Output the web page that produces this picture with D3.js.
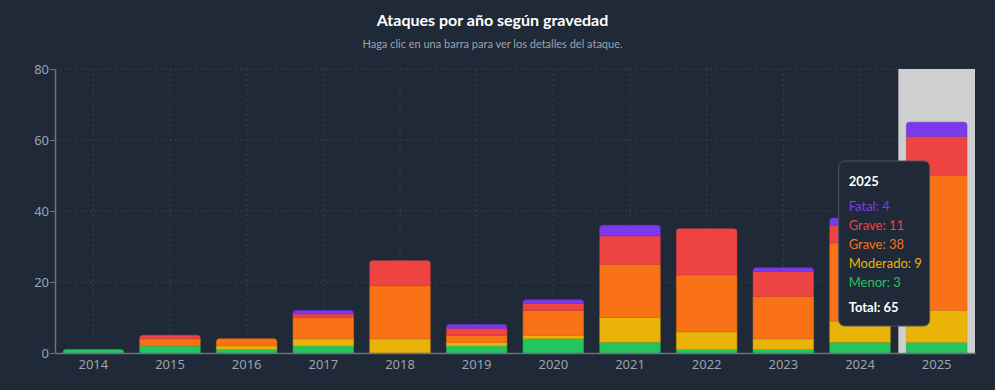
<!DOCTYPE html>
<html>
<head>
<meta charset="utf-8">
<script src="https://cdn.jsdelivr.net/npm/d3@7"></script>
<style>
  html, body { margin: 0; padding: 0; background: #1f2937; }
  svg { display: block; font-family: Lato, "Noto Sans", sans-serif; }
</style>
</head>
<body>
<div id="chart"></div>
<script>
let svgWidth = 995;
let svgHeight = 390;

let margin = { top: 69, right: 20, bottom: 37, left: 55 };
let width = svgWidth - margin.left - margin.right;
let height = svgHeight - margin.top - margin.bottom;

// data, stacked bottom to top
let years = ["2014", "2015", "2016", "2017", "2018", "2019", "2020", "2021", "2022", "2023", "2024", "2025"];
let menor    = [1, 2, 1, 2, 0, 2, 4, 3, 1, 1, 3, 3];
let moderado = [0, 0, 1, 2, 4, 1, 1, 7, 5, 3, 6, 9];
let graveNar = [0, 2, 2, 6, 15, 2, 7, 15, 16, 12, 22, 38];
let graveRoj = [0, 1, 0, 1, 7, 2, 2, 8, 13, 7, 5, 11];
let fatal    = [0, 0, 0, 1, 0, 1, 1, 3, 0, 1, 2, 4];
let yTicks = [0, 20, 40, 60, 80];

let series = [
  { key: "menor", label: "Menor", values: menor, color: "#22c55e" },
  { key: "moderado", label: "Moderado", values: moderado, color: "#eab308" },
  { key: "graveNar", label: "Grave", values: graveNar, color: "#f97316" },
  { key: "graveRoj", label: "Grave", values: graveRoj, color: "#ef4444" },
  { key: "fatal", label: "Fatal", values: fatal, color: "#7c3aed" }
];

let rows = years.map((y, i) => {
  let r = { year: y };
  series.forEach(s => r[s.key] = s.values[i]);
  return r;
});

let stacked = d3.stack().keys(series.map(s => s.key))(rows);

let svg = d3.select("#chart").append("svg")
  .attr("width", svgWidth)
  .attr("height", svgHeight);

// title
svg.append("text")
  .attr("x", svgWidth / 2 - 5).attr("y", 26)
  .attr("text-anchor", "middle")
  .attr("fill", "#ffffff")
  .style("font-size", "16px").style("font-weight", "bold")
  .text("Ataques por año según gravedad");

svg.append("text")
  .attr("x", svgWidth / 2 - 5).attr("y", 48)
  .attr("text-anchor", "middle")
  .attr("fill", "#9ca3af")
  .style("font-size", "11px")
  .text("Haga clic en una barra para ver los detalles del ataque.");

let chartGroup = svg.append("g")
  .attr("transform", `translate(${margin.left}, ${margin.top})`);

let x = d3.scaleBand().domain(years).range([0, width]).padding(0);
let y = d3.scaleLinear().domain([0, 80]).range([height, 0]);
let barW = x.bandwidth() * 0.79;

// grid
chartGroup.append("g").selectAll("line.h")
  .data(yTicks.filter(d => d > 0))
  .enter().append("line")
  .attr("x1", 0).attr("x2", width)
  .attr("y1", d => y(d)).attr("y2", d => y(d))
  .attr("stroke", "#374151").attr("stroke-dasharray", "2,3");

chartGroup.append("g").selectAll("line.v")
  .data(years)
  .enter().append("line")
  .attr("x1", d => x(d) + x.bandwidth() / 2).attr("x2", d => x(d) + x.bandwidth() / 2)
  .attr("y1", 0).attr("y2", height)
  .attr("stroke", "#374151").attr("stroke-dasharray", "2,3");

// hovered year highlight
let active = "2025";
chartGroup.append("rect")
  .attr("x", x(active)).attr("y", 0)
  .attr("width", x.bandwidth()).attr("height", height)
  .attr("fill", "#cfcfcf");

// top segment for each year gets rounded corners
let topKey = rows.map(r => {
  let k = null;
  series.forEach(s => { if (r[s.key] > 0) k = s.key; });
  return k;
});

function segPath(x0, y0, w, h, r) {
  if (h <= 0) return "";
  r = Math.min(r, h, w / 2);
  return `M${x0},${y0 + h}V${y0 + r}Q${x0},${y0} ${x0 + r},${y0}H${x0 + w - r}Q${x0 + w},${y0} ${x0 + w},${y0 + r}V${y0 + h}Z`;
}

stacked.forEach((layer, li) => {
  let s = series[li];
  chartGroup.append("g").selectAll("path")
    .data(layer.map((d, i) => ({ d: d, i: i })).filter(o => o.d[1] > o.d[0]))
    .enter().append("path")
    .attr("d", o => {
      let x0 = x(years[o.i]) + (x.bandwidth() - barW) / 2;
      let y0 = y(o.d[1]);
      let h = y(o.d[0]) - y(o.d[1]);
      let r = topKey[o.i] === s.key ? 3 : 0;
      return segPath(x0, y0, barW, h, r);
    })
    .attr("fill", s.color)
    .attr("stroke", d3.color(s.color).darker(0.4))
    .attr("stroke-width", 0.6);
});

// axes
let leftAxis = d3.axisLeft(y).tickValues(yTicks).tickSize(5).tickSizeOuter(0);
let bottomAxis = d3.axisBottom(x).tickSize(5).tickSizeOuter(0);

let yAxis = chartGroup.append("g").call(leftAxis);
let xAxis = chartGroup.append("g")
  .attr("transform", `translate(0, ${height})`)
  .call(bottomAxis);

[yAxis, xAxis].forEach(a => {
  a.select(".domain").attr("stroke", "#6b7280").attr("stroke-width", 1.5);
  a.selectAll(".tick line").attr("stroke", "#6b7280");
  a.selectAll(".tick text").attr("fill", "#9ca3af").style("font-size", "13px")
    .style("font-family", "'Noto Sans', sans-serif");
});
yAxis.selectAll(".tick text").attr("x", -6);
xAxis.selectAll(".tick line").remove();
xAxis.selectAll(".tick text").attr("y", 7);

// tooltip for the active year
let ai = years.indexOf(active);
let tipLines = series.slice().reverse().map(s => ({ text: `${s.label}: ${s.values[ai]}`, color: s.color }));
let total = d3.sum(series, s => s.values[ai]);

let tipW = 91, tipH = 165;
let tipX = x(active) + x.bandwidth() / 2 - 98;
let tipY = 92;
let tip = chartGroup.append("g").attr("transform", `translate(${tipX}, ${tipY})`);
tip.append("rect")
  .attr("width", tipW).attr("height", tipH)
  .attr("rx", 6)
  .attr("fill", "#1f2937")
  .attr("stroke", "#4b5563").attr("stroke-width", 1);
tip.append("text")
  .attr("x", 10).attr("y", 25)
  .attr("fill", "#ffffff").style("font-size", "13px").style("font-weight", "bold")
  .text(active);
tip.selectAll("text.line")
  .data(tipLines)
  .enter().append("text")
  .attr("class", "line")
  .attr("x", 10).attr("y", (d, i) => 50 + i * 19)
  .attr("fill", d => d.color).style("font-size", "13px")
  .text(d => d.text);
tip.append("text")
  .attr("x", 10).attr("y", 151)
  .attr("fill", "#ffffff").style("font-size", "13px").style("font-weight", "bold")
  .text(`Total: ${total}`);
</script>
</body>
</html>
